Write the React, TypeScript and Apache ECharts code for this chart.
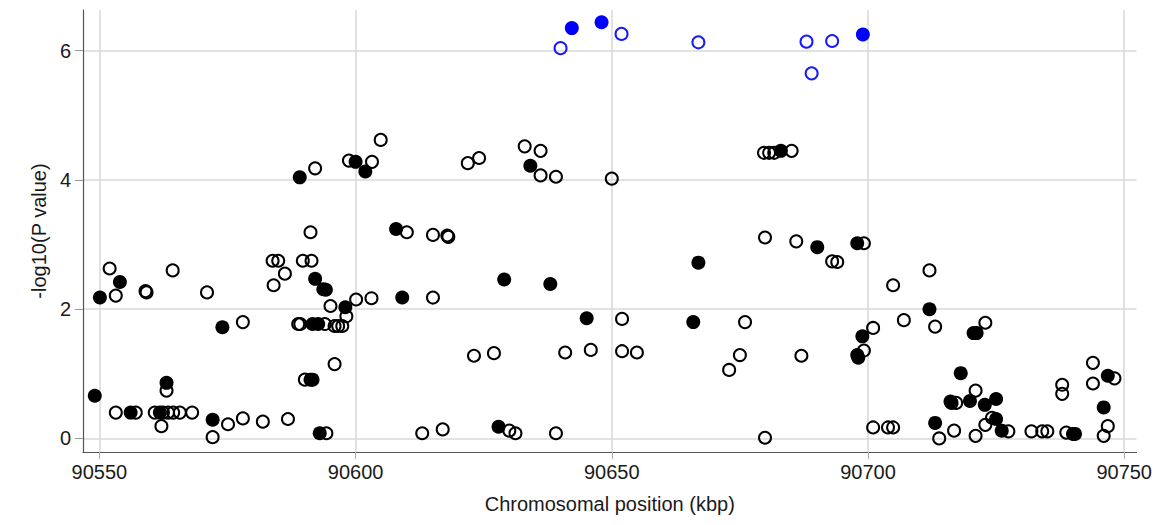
import React, { useEffect, useRef } from "react";
import * as echarts from "echarts";

// Chromosomal position (kbp) and -log10(P value) per marker group
const filledBluePos = [90642.2, 90648.0, 90699.0];
const filledBlueLogP = [6.35, 6.44, 6.25];

const openBluePos = [90640.0, 90651.9, 90666.9, 90688.0, 90689.0, 90693.0];
const openBlueLogP = [6.04, 6.26, 6.13, 6.14, 5.65, 6.15];

const filledBlackPos = [
  90589.1, 90600.0, 90601.9, 90634.1, 90683.0, 90550.1, 90554.0, 90574.0, 90592.1, 90593.7,
  90594.2, 90591.6, 90592.7, 90591.2, 90591.6, 90549.1, 90556.1, 90563.1, 90561.8, 90572.1,
  90593.0, 90607.9, 90629.0, 90638.0, 90645.1, 90609.1, 90598.0, 90627.9, 90690.1, 90697.9,
  90666.9, 90665.9, 90698.9, 90697.9, 90698.1, 90712.0, 90720.6, 90721.2, 90718.1, 90716.1,
  90719.9, 90722.8, 90725.0, 90746.8, 90746.0, 90713.1, 90725.0, 90726.1, 90740.0, 90740.4,
];
const filledBlackLogP = [
  4.04, 4.28, 4.13, 4.22, 4.45, 2.18, 2.42, 1.72, 2.47, 2.31,
  2.3, 1.77, 1.77, 0.91, 0.91, 0.66, 0.4, 0.86, 0.4, 0.29,
  0.08, 3.24, 2.46, 2.39, 1.86, 2.18, 2.03, 0.18, 2.96, 3.02,
  2.72, 1.8, 1.58, 1.29, 1.25, 2.0, 1.63, 1.63, 1.01, 0.57,
  0.58, 0.52, 0.61, 0.97, 0.48, 0.24, 0.3, 0.12, 0.07, 0.07,
];

const openBlackPos = [
  90592.1, 90598.7, 90603.2, 90604.9, 90621.9, 90624.1, 90633.0, 90636.1, 90636.1, 90639.1,
  90650.0, 90679.7, 90680.7, 90681.7, 90685.1, 90552.0, 90553.2, 90559.0, 90559.2, 90564.3,
  90571.0, 90578.0, 90584.0, 90583.8, 90584.9, 90586.2, 90591.2, 90589.7, 90591.4, 90595.1,
  90588.8, 90589.2, 90594.0, 90595.9, 90596.6, 90597.4, 90595.9, 90590.1, 90553.2, 90557.1,
  90563.1, 90560.8, 90562.4, 90563.4, 90564.4, 90565.7, 90568.1, 90562.1, 90572.1, 90575.1,
  90578.0, 90581.9, 90586.8, 90594.3, 90610.0, 90615.1, 90617.9, 90618.1, 90615.1, 90600.1,
  90603.1, 90598.2, 90623.1, 90627.0, 90640.9, 90645.9, 90613.0, 90617.0, 90630.0, 90631.2,
  90639.1, 90679.9, 90686.0, 90699.2, 90693.0, 90694.0, 90652.0, 90676.0, 90652.0, 90654.9,
  90675.0, 90672.9, 90687.0, 90701.0, 90699.2, 90679.9, 90701.0, 90712.0, 90704.9, 90707.0,
  90713.1, 90722.9, 90721.0, 90716.3, 90717.2, 90737.9, 90737.9, 90743.9, 90743.9, 90748.1,
  90746.8, 90746.0, 90703.9, 90704.9, 90713.9, 90716.8, 90721.0, 90722.9, 90724.2, 90727.4,
  90731.9, 90734.0, 90735.0, 90738.7,
];
const openBlackLogP = [
  4.18, 4.3, 4.28, 4.62, 4.26, 4.34, 4.52, 4.45, 4.07, 4.05,
  4.02, 4.42, 4.42, 4.42, 4.45, 2.63, 2.21, 2.28, 2.26, 2.6,
  2.26, 1.8, 2.37, 2.75, 2.75, 2.55, 3.19, 2.75, 2.75, 2.05,
  1.77, 1.77, 1.77, 1.74, 1.74, 1.74, 1.15, 0.91, 0.4, 0.4,
  0.74, 0.4, 0.4, 0.4, 0.4, 0.4, 0.4, 0.19, 0.02, 0.22,
  0.31, 0.26, 0.3, 0.08, 3.19, 3.15, 3.14, 3.12, 2.18, 2.15,
  2.17, 1.89, 1.28, 1.32, 1.33, 1.37, 0.08, 0.14, 0.12, 0.08,
  0.08, 3.11, 3.05, 3.02, 2.74, 2.73, 1.85, 1.8, 1.35, 1.33,
  1.29, 1.06, 1.28, 1.71, 1.36, 0.01, 0.17, 2.6, 2.37, 1.83,
  1.73, 1.79, 0.74, 0.55, 0.55, 0.83, 0.69, 1.17, 0.85, 0.93,
  0.19, 0.04, 0.17, 0.17, 0.0, 0.12, 0.04, 0.21, 0.32, 0.11,
  0.11, 0.11, 0.11, 0.09,
];

const xTicks = [90550, 90600, 90650, 90700, 90750];
const yTicks = [0, 2, 4, 6];

const pairs = (xs: number[], ys: number[]) => xs.map((x, i) => [x, ys[i]]);

const FONT = "Liberation Sans, Arial, sans-serif";

export default function App() {
  const ref = useRef<HTMLDivElement>(null);
  useEffect(() => {
    if (!ref.current) return;
    const chart = echarts.init(ref.current, null, { renderer: "svg" });
    const openStyle = (c: string) => ({
      color: "rgba(0,0,0,0)",
      borderColor: c,
      borderWidth: 2,
      opacity: 1,
    });
    chart.setOption({
      animation: false,
      backgroundColor: "#ffffff",
      grid: { left: 83, right: 17, top: 10, bottom: 73 },
      xAxis: {
        type: "value",
        min: 90546.8,
        max: 90752.4,
        name: "Chromosomal position (kbp)",
        nameLocation: "middle",
        nameGap: 42,
        nameTextStyle: { fontSize: 20, color: "#1a1a1a", fontFamily: FONT },
        axisLine: { show: true, onZero: false, lineStyle: { color: "#555", width: 1.2 } },
        axisTick: { show: true, length: 7, customValues: xTicks, lineStyle: { color: "#aaa" } },
        axisLabel: {
          customValues: xTicks,
          formatter: (v: number) => String(v),
          fontSize: 20,
          color: "#1a1a1a",
          fontFamily: FONT,
          margin: 10,
        },
        splitLine: { show: true, lineStyle: { color: "#d9d9d9", width: 1.5 } },
      },
      yAxis: {
        type: "value",
        min: -0.21,
        max: 6.63,
        name: "-log10(P value)",
        nameLocation: "middle",
        nameGap: 33,
        nameTextStyle: { fontSize: 20, color: "#1a1a1a", fontFamily: FONT },
        axisLine: { show: true, onZero: false, lineStyle: { color: "#555", width: 1.2 } },
        axisTick: { show: true, length: 8, customValues: yTicks, lineStyle: { color: "#999" } },
        axisLabel: {
          customValues: yTicks,
          formatter: (v: number) => String(v),
          fontSize: 20,
          color: "#1a1a1a",
          fontFamily: FONT,
          margin: 12,
        },
        splitLine: { show: true, lineStyle: { color: "#d9d9d9", width: 1.5 } },
      },
      series: [
        {
          type: "scatter",
          symbol: "circle",
          symbolSize: 12,
          data: pairs(openBlackPos, openBlackLogP),
          itemStyle: openStyle("#000"),
        },
        {
          type: "scatter",
          symbol: "circle",
          symbolSize: 14,
          data: pairs(filledBlackPos, filledBlackLogP),
          itemStyle: { color: "#000", opacity: 1 },
        },
        {
          type: "scatter",
          symbol: "circle",
          symbolSize: 12,
          data: pairs(openBluePos, openBlueLogP),
          itemStyle: openStyle("#1a1aff"),
        },
        {
          type: "scatter",
          symbol: "circle",
          symbolSize: 14,
          data: pairs(filledBluePos, filledBlueLogP),
          itemStyle: { color: "#0000ff", opacity: 1 },
        },
      ],
    });
    return () => chart.dispose();
  }, []);
  return (
    <div
      ref={ref}
      style={{ position: "fixed", left: 0, top: 0, width: 1155, height: 525, background: "#fff" }}
    />
  );
}
